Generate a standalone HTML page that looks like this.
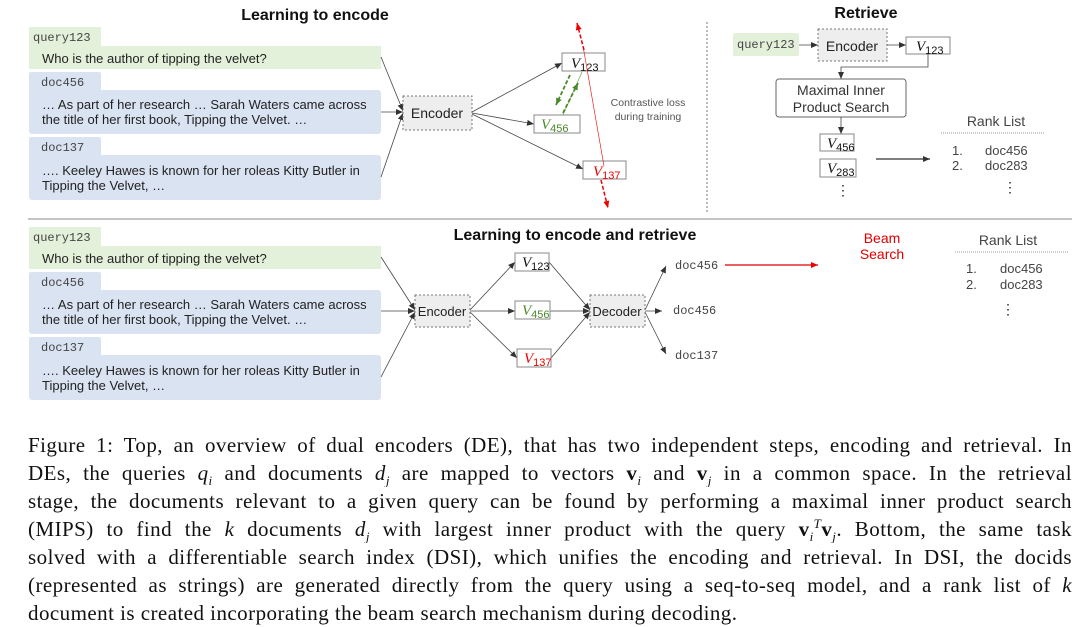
<!DOCTYPE html>
<html><head><meta charset="utf-8"><style>
body{margin:0;width:1080px;height:626px;background:#fff;overflow:hidden;position:relative}
svg{position:absolute;left:0;top:0}
.cap{position:absolute;left:28px;width:1044px;font-family:"Liberation Serif",serif;font-size:21px;letter-spacing:0.45px;color:#111}
.ln{height:28px;line-height:28px;text-align:justify;text-align-last:justify;white-space:normal;overflow:hidden}
.ln.last{text-align-last:left}
b.v{font-weight:bold}
sub,sup{font-size:13px;line-height:0;position:relative;vertical-align:baseline}
sub{top:5px}sup{top:-8px}
</style></head><body>
<svg width="1080" height="430" viewBox="0 0 1080 430" font-family="Liberation Sans, sans-serif">
<defs>
<marker id="a" markerWidth="8" markerHeight="8" refX="7" refY="4" orient="auto" markerUnits="userSpaceOnUse"><path d="M0,1 L7,4 L0,7 z" fill="#333"/></marker>
<marker id="r" markerWidth="8" markerHeight="8" refX="7" refY="4" orient="auto" markerUnits="userSpaceOnUse"><path d="M0,1 L7,4 L0,7 z" fill="#e00"/></marker>
<marker id="g" markerWidth="8" markerHeight="8" refX="7" refY="4" orient="auto" markerUnits="userSpaceOnUse"><path d="M0,1 L7,4 L0,7 z" fill="#4a8a2a"/></marker>
</defs>
<text x="315" y="20" font-size="16" font-weight="bold" text-anchor="middle" fill="#111">Learning to encode</text>
<g id="docs">
<rect x="29" y="27" width="72" height="22" fill="#e3f0da"/>
<rect x="29" y="46" width="352" height="23" fill="#e3f0da"/>
<text x="33" y="41" font-family="Liberation Mono, monospace" font-size="12" fill="#444">query123</text>
<text x="42" y="63" font-size="13" fill="#222">Who is the author of tipping the velvet?</text>
<rect x="29" y="72" width="72" height="22" rx="2" fill="#dae3f1"/>
<rect x="29" y="90" width="352" height="44" rx="3" fill="#dae3f1"/>
<text x="41" y="86" font-family="Liberation Mono, monospace" font-size="12" fill="#444">doc456</text>
<text x="42" y="109" font-size="13" fill="#222">… As part of her research … Sarah Waters came across</text>
<text x="42" y="124" font-size="13" fill="#222">the title of her first book, Tipping the Velvet. …</text>
<rect x="29" y="137" width="72" height="22" rx="2" fill="#dae3f1"/>
<rect x="29" y="155" width="352" height="45" rx="3" fill="#dae3f1"/>
<text x="41" y="151" font-family="Liberation Mono, monospace" font-size="12" fill="#444">doc137</text>
<text x="42" y="175" font-size="13" fill="#222">….  Keeley Hawes is known for her roleas Kitty Butler in</text>
<text x="42" y="190" font-size="13" fill="#222">Tipping the Velvet, …</text>
</g>
<g stroke="#444" stroke-width="0.8" fill="none">
<line x1="381" y1="57" x2="403" y2="111" marker-end="url(#a)"/>
<line x1="381" y1="112" x2="403" y2="112" marker-end="url(#a)"/>
<line x1="381" y1="177" x2="403" y2="113" marker-end="url(#a)"/>
<line x1="472" y1="112" x2="562" y2="63" marker-end="url(#a)"/>
<line x1="472" y1="113" x2="534" y2="124" marker-end="url(#a)"/>
<line x1="472" y1="114" x2="583" y2="169" marker-end="url(#a)"/>
</g>
<rect x="403" y="96" width="69" height="34" fill="#eee" stroke="#777" stroke-dasharray="2,2"/>
<text x="437" y="118" font-size="14" text-anchor="middle" fill="#222">Encoder</text>
<rect x="562" y="53" width="43" height="18" fill="#fff" stroke="#888"/>
<text x="571" y="68" font-family="Liberation Serif, serif" font-style="italic" font-size="15" fill="#111">V<tspan font-size="11" font-style="normal" font-family="Liberation Sans" dy="3">123</tspan></text>
<rect x="534" y="115" width="46" height="18" fill="#fff" stroke="#888"/>
<text x="541" y="129" font-family="Liberation Serif, serif" font-style="italic" font-size="15" fill="#4a8a2a">V<tspan font-size="11" font-style="normal" font-family="Liberation Sans" dy="3">456</tspan></text>
<rect x="583" y="161" width="43" height="18" fill="#fff" stroke="#888"/>
<text x="593" y="176" font-family="Liberation Serif, serif" font-style="italic" font-size="15" fill="#e00">V<tspan font-size="11" font-style="normal" font-family="Liberation Sans" dy="3">137</tspan></text>
<line x1="582" y1="72" x2="563" y2="115" stroke="#6aa84f" stroke-width="0.7"/>
<line x1="570" y1="75" x2="556" y2="105" stroke="#4a8a2a" stroke-width="1.8" stroke-dasharray="4,2" marker-end="url(#g)"/>
<line x1="563" y1="113" x2="578" y2="83" stroke="#4a8a2a" stroke-width="1.8" stroke-dasharray="4,2" marker-end="url(#g)"/>
<line x1="583" y1="46" x2="604" y2="166" stroke="#e00" stroke-width="0.6"/>
<line x1="584" y1="50" x2="577" y2="23" stroke="#e00" stroke-width="1.5" stroke-dasharray="4,2" marker-end="url(#r)"/>
<line x1="601" y1="180" x2="608" y2="208" stroke="#e00" stroke-width="1.5" stroke-dasharray="4,2" marker-end="url(#r)"/>
<text x="648" y="106" font-size="10.5" text-anchor="middle" fill="#555">Contrastive loss</text>
<text x="648" y="120" font-size="10.5" text-anchor="middle" fill="#555">during training</text>
<line x1="707" y1="22" x2="707" y2="212" stroke="#777" stroke-dasharray="2,2"/>
<text x="866" y="18" font-size="16" font-weight="bold" text-anchor="middle" fill="#111">Retrieve</text>
<rect x="733" y="33" width="66" height="23" rx="2" fill="#e3f0da"/>
<text x="737" y="48" font-family="Liberation Mono, monospace" font-size="12" fill="#444">query123</text>
<line x1="799" y1="45" x2="818" y2="45" stroke="#444" stroke-width="0.8" marker-end="url(#a)"/>
<rect x="818" y="29" width="69" height="32" fill="#eee" stroke="#777" stroke-dasharray="2,2"/>
<text x="852" y="51" font-size="14" text-anchor="middle" fill="#222">Encoder</text>
<line x1="887" y1="45" x2="906" y2="45" stroke="#444" stroke-width="0.8" marker-end="url(#a)"/>
<rect x="906" y="37" width="44" height="17" fill="#fff" stroke="#888"/>
<text x="916" y="51" font-family="Liberation Serif, serif" font-style="italic" font-size="15" fill="#111">V<tspan font-size="11" font-style="normal" font-family="Liberation Sans" dy="3">123</tspan></text>
<polyline points="928,54 928,67 841,67 841,79" fill="none" stroke="#444" stroke-width="0.8" marker-end="url(#a)"/>
<rect x="776" y="79" width="130" height="38" rx="3" fill="#fff" stroke="#666"/>
<text x="841" y="95" font-size="14" text-anchor="middle" fill="#333">Maximal Inner</text>
<text x="841" y="112" font-size="14" text-anchor="middle" fill="#333">Product Search</text>
<line x1="841" y1="117" x2="841" y2="134" stroke="#444" stroke-width="0.8" marker-end="url(#a)"/>
<rect x="820" y="134" width="34" height="17" fill="#fff" stroke="#888"/>
<text x="827" y="148" font-family="Liberation Serif, serif" font-style="italic" font-size="15" fill="#111">V<tspan font-size="11" font-style="normal" font-family="Liberation Sans" dy="3">456</tspan></text>
<rect x="820" y="159" width="36" height="18" fill="#fff" stroke="#888"/>
<text x="827" y="173" font-family="Liberation Serif, serif" font-style="italic" font-size="15" fill="#111">V<tspan font-size="11" font-style="normal" font-family="Liberation Sans" dy="3">283</tspan></text>
<text x="843" y="195" font-size="14" text-anchor="middle" fill="#222">⋮</text>
<line x1="876" y1="159" x2="930" y2="159" stroke="#333" stroke-width="1.2" marker-end="url(#a)"/>
<text x="996" y="126" font-size="14" text-anchor="middle" fill="#444">Rank List</text>
<line x1="941" y1="133" x2="1045" y2="133" stroke="#999" stroke-dasharray="1,1"/>
<text x="952" y="155" font-size="13" fill="#444">1.</text><text x="985" y="155" font-size="13" fill="#444">doc456</text>
<text x="952" y="170" font-size="13" fill="#444">2.</text><text x="985" y="170" font-size="13" fill="#444">doc283</text>
<text x="1010" y="192" font-size="14" text-anchor="middle" fill="#222">⋮</text>
<line x1="28" y1="219" x2="1072" y2="219" stroke="#888" stroke-width="1"/>
<text x="575" y="240" font-size="16" font-weight="bold" text-anchor="middle" fill="#111">Learning to encode and retrieve</text>
<use href="#docs" y="200"/>
<g stroke="#444" stroke-width="0.8" fill="none">
<line x1="381" y1="257" x2="415" y2="310" marker-end="url(#a)"/>
<line x1="381" y1="311" x2="415" y2="311" marker-end="url(#a)"/>
<line x1="381" y1="377" x2="415" y2="312" marker-end="url(#a)"/>
<line x1="470" y1="310" x2="515" y2="262" marker-end="url(#a)"/>
<line x1="470" y1="311" x2="515" y2="311" marker-end="url(#a)"/>
<line x1="470" y1="312" x2="517" y2="358" marker-end="url(#a)"/>
<line x1="549" y1="262" x2="590" y2="310" marker-end="url(#a)"/>
<line x1="550" y1="311" x2="590" y2="311" marker-end="url(#a)"/>
<line x1="551" y1="358" x2="590" y2="312" marker-end="url(#a)"/>
<line x1="645" y1="310" x2="666" y2="266" marker-end="url(#a)"/>
<line x1="645" y1="311" x2="662" y2="311" marker-end="url(#a)"/>
<line x1="645" y1="312" x2="666" y2="354" marker-end="url(#a)"/>
</g>
<rect x="415" y="295" width="55" height="32" fill="#eee" stroke="#777" stroke-dasharray="2,2"/>
<text x="442" y="316" font-size="13" text-anchor="middle" fill="#222">Encoder</text>
<rect x="590" y="295" width="55" height="32" fill="#eee" stroke="#777" stroke-dasharray="2,2"/>
<text x="617" y="316" font-size="13" text-anchor="middle" fill="#222">Decoder</text>
<rect x="515" y="253" width="34" height="18" fill="#fff" stroke="#888"/>
<text x="522" y="267" font-family="Liberation Serif, serif" font-style="italic" font-size="15" fill="#111">V<tspan font-size="11" font-style="normal" font-family="Liberation Sans" dy="3">123</tspan></text>
<rect x="515" y="301" width="35" height="18" fill="#fff" stroke="#888"/>
<text x="522" y="315" font-family="Liberation Serif, serif" font-style="italic" font-size="15" fill="#4a8a2a">V<tspan font-size="11" font-style="normal" font-family="Liberation Sans" dy="3">456</tspan></text>
<rect x="517" y="349" width="34" height="18" fill="#fff" stroke="#888"/>
<text x="524" y="363" font-family="Liberation Serif, serif" font-style="italic" font-size="15" fill="#e00">V<tspan font-size="11" font-style="normal" font-family="Liberation Sans" dy="3">137</tspan></text>
<g font-family="Liberation Mono, monospace" font-size="12" fill="#444">
<text x="675" y="269">doc456</text><text x="673" y="314">doc456</text><text x="675" y="359">doc137</text>
</g>
<text x="882" y="243" font-size="14" text-anchor="middle" fill="#d00">Beam</text>
<text x="882" y="259" font-size="14" text-anchor="middle" fill="#d00">Search</text>
<line x1="725" y1="265" x2="818" y2="265" stroke="#d00" stroke-width="1.2" marker-end="url(#r)"/>
<text x="1008" y="245" font-size="14" text-anchor="middle" fill="#444">Rank List</text>
<line x1="955" y1="252" x2="1068" y2="252" stroke="#999" stroke-dasharray="1,1"/>
<text x="966" y="273" font-size="13" fill="#444">1.</text><text x="1000" y="273" font-size="13" fill="#444">doc456</text>
<text x="966" y="289" font-size="13" fill="#444">2.</text><text x="1000" y="289" font-size="13" fill="#444">doc283</text>
<text x="1008" y="314" font-size="14" text-anchor="middle" fill="#222">⋮</text>
</svg>
<div class="cap" style="top:431px">
<div class="ln">Figure 1: Top, an overview of dual encoders (DE), that has two independent steps, encoding and retrieval. In</div>
<div class="ln">DEs, the queries <i>q<sub>i</sub></i> and documents <i>d<sub>j</sub></i> are mapped to vectors <b class="v">v</b><sub><i>i</i></sub> and <b class="v">v</b><sub><i>j</i></sub> in a common space. In the retrieval</div>
<div class="ln">stage, the documents relevant to a given query can be found by performing a maximal inner product search</div>
<div class="ln">(MIPS) to find the <i>k</i> documents <i>d<sub>j</sub></i> with largest inner product with the query <b class="v">v</b><sub><i>i</i></sub><sup><i>T</i></sup><b class="v">v</b><sub><i>j</i></sub>. Bottom, the same task</div>
<div class="ln">solved with a differentiable search index (DSI), which unifies the encoding and retrieval. In DSI, the docids</div>
<div class="ln">(represented as strings) are generated directly from the query using a seq-to-seq model, and a rank list of <i>k</i></div>
<div class="ln last">document is created incorporating the beam search mechanism during decoding.</div>
</div>
</body></html>
